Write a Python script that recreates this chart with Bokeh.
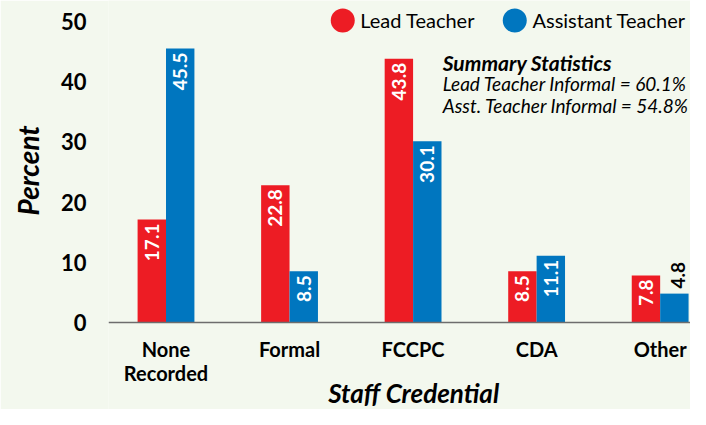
from bokeh.plotting import figure
from bokeh.models import (ColumnDataSource, Range1d, FixedTicker, LabelSet, Label,
                          Legend, LegendItem, Span, Title)
from bokeh.core.properties import value
from bokeh.embed import file_html
from bokeh.resources import INLINE
import math

categories = ["None\nRecorded", "Formal", "FCCPC", "CDA", "Other"]
lead = [17.1, 22.8, 43.8, 8.5, 7.8]
asst = [45.5, 8.5, 30.1, 11.1, 4.8]
y_ticks = [0, 10, 20, 30, 40, 50]
x_title = "Staff Credential"
y_title = "Percent"
series_names = ["Lead Teacher", "Assistant Teacher"]
summary_title = "Summary Statistics"
summary_lines = ["Lead Teacher Informal = 60.1%", "Asst. Teacher Informal = 54.8%"]

RED = "#ed1c24"
BLUE = "#0076bf"
BG = "#f3f8ee"
FONT = "Lato"

xs = list(range(len(categories)))
bw = 0.23
off = bw / 2

# the frame reaches the bottom edge so the category labels and the x title
# can sit below the zero line
p = figure(width=690, height=409, output_backend="svg", toolbar_location=None,
           x_axis_location=None,
           x_range=Range1d(-0.4655, 4.2456), y_range=Range1d(-14.45, 53.49),
           min_border_left=103, min_border_right=0, min_border_top=0, min_border_bottom=0)
p.background_fill_color = BG
p.border_fill_color = BG
p.outline_line_color = None
p.grid.visible = False

def src(vals, shift):
    return ColumnDataSource(dict(x=[x + shift for x in xs], top=vals))

p.vbar(x="x", top="top", width=bw, source=src(lead, -off), fill_color=RED, line_color=None)
p.vbar(x="x", top="top", width=bw, source=src(asst, off), fill_color=BLUE, line_color=None)

# zero line (category axis line)
p.add_layout(Span(location=0, dimension="width", line_color="#6d6d6d", line_width=1.5))

# category labels, one LabelSet per text line so each line is centred
lines = [c.split("\n") for c in categories]
n_lines = max(len(l) for l in lines)
for k in range(n_lines):
    s = ColumnDataSource(dict(x=xs, y=[0] * len(xs),
                              t=[l[k] if k < len(l) else "" for l in lines]))
    p.add_layout(LabelSet(x="x", y="y", text="t", source=s, y_offset=-14 - 24 * k,
                          text_align="center", text_baseline="top",
                          text_color="black", text_font=value(FONT),
                          text_font_style="bold", text_font_size="20px"))

# x title
p.add_layout(Label(x=2.006, y=-11.63, text=x_title, text_font=FONT,
                   text_font_style="bold italic", text_font_size="26px",
                   text_align="center", text_baseline="middle", text_color="black"))

# value labels: inside the bar top (white) or, for short bars, above it (black)
THRESH = 6.0
for vals, shift in ((lead, -off), (asst, off)):
    inside = [(x + shift, v, f"{v:.1f}") for x, v in zip(xs, vals) if v >= THRESH]
    outside = [(x + shift, v, f"{v:.1f}") for x, v in zip(xs, vals) if v < THRESH]
    if inside:
        s = ColumnDataSource(dict(x=[a[0] for a in inside], y=[a[1] for a in inside],
                                  t=[a[2] for a in inside]))
        p.add_layout(LabelSet(x="x", y="y", text="t", source=s, angle=math.pi / 2,
                              text_align="right", text_baseline="middle", y_offset=-4,
                              text_color="white", text_font=value(FONT),
                              text_font_style="bold", text_font_size="19px"))
    if outside:
        s = ColumnDataSource(dict(x=[a[0] for a in outside], y=[a[1] for a in outside],
                                  t=[a[2] for a in outside]))
        p.add_layout(LabelSet(x="x", y="y", text="t", source=s, angle=math.pi / 2,
                              text_align="left", text_baseline="middle", y_offset=5,
                              x_offset=4,
                              text_color="black", text_font=value(FONT),
                              text_font_style="bold", text_font_size="19px"))

# y axis
p.yaxis.ticker = FixedTicker(ticks=y_ticks)
p.yaxis.axis_line_color = None
p.yaxis.major_tick_line_color = None
p.yaxis.minor_tick_line_color = None
p.yaxis.major_label_text_font = FONT
p.yaxis.major_label_text_font_style = "bold"
p.yaxis.major_label_text_font_size = "22px"
p.yaxis.major_label_text_color = "black"
p.yaxis.major_label_standoff = 16

# y title, placed over the 0-50 span rather than the whole frame
p.add_layout(Title(text=y_title, align="left", offset=194, standoff=21,
                   vertical_align="top",
                   text_font=FONT, text_font_style="bold italic",
                   text_font_size="28px", text_color="black"), "left")

# legend (marker-only renderers placed below the visible range)
r1 = p.ellipse(x=[0], y=[-100], width=24, height=24, width_units="screen",
               height_units="screen", fill_color=RED, line_color=None)
r2 = p.ellipse(x=[0], y=[-100], width=24, height=24, width_units="screen",
               height_units="screen", fill_color=BLUE, line_color=None)
legend = Legend(items=[LegendItem(label=series_names[0], renderers=[r1]),
                       LegendItem(label=series_names[1], renderers=[r2])],
                orientation="horizontal", location="top_right",
                glyph_width=30, glyph_height=30, label_standoff=3, spacing=25,
                padding=0, margin=5, border_line_color=None, background_fill_alpha=0,
                label_text_font=FONT, label_text_font_size="20px",
                label_text_color="black", label_height=30)
p.add_layout(legend)

# summary statistics
sx = 2.24
p.add_layout(Label(x=sx, y=43.19, text=summary_title, text_font=FONT,
                   text_font_style="bold italic", text_font_size="21px",
                   text_baseline="middle", text_color="black"))
for yy, line in zip([39.70, 36.05], summary_lines):
    p.add_layout(Label(x=sx, y=yy, text=line, text_font=FONT,
                       text_font_style="italic", text_font_size="19px",
                       text_baseline="middle", text_color="black"))

open("out.html", "w").write(file_html(p, INLINE))
